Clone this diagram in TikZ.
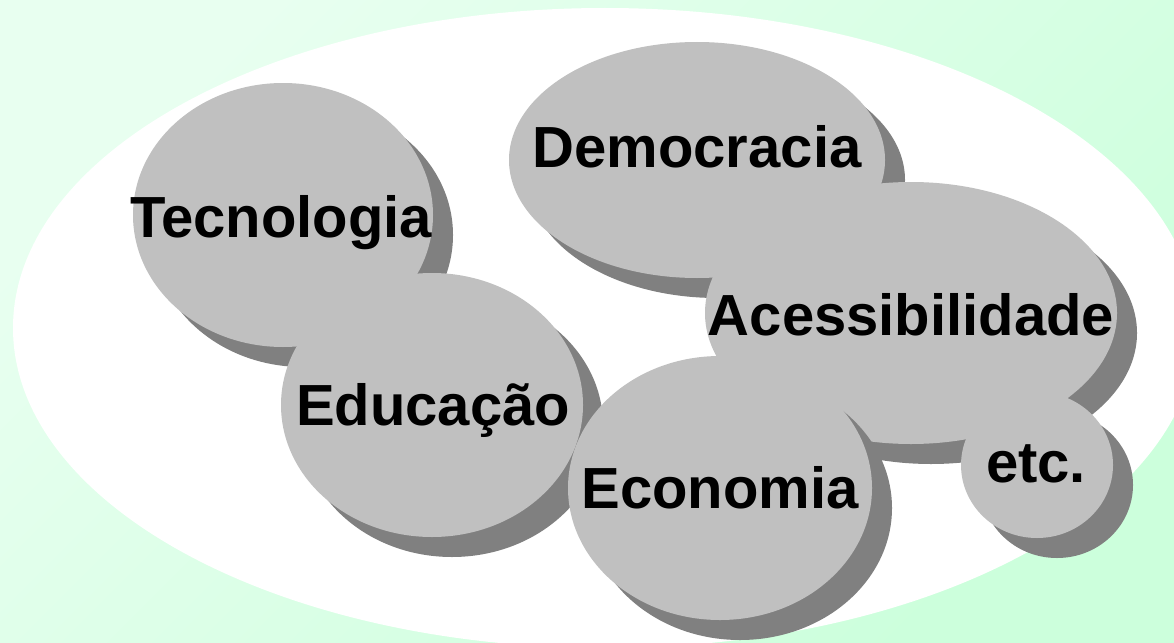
\documentclass[tikz,border=0pt]{standalone}
\usepackage{fontspec}
\setmainfont{Liberation Sans}
\definecolor{bglight}{HTML}{E8FFF0}
\definecolor{bgdark}{HTML}{CCFFDC}
\definecolor{bubble}{HTML}{C0C0C0}
\definecolor{bubbleshadow}{HTML}{808080}
\tikzset{
  label/.style={anchor=base, inner sep=0pt, font=\fontsize{58}{66}\selectfont\bfseries, text=black},
}
\newcommand{\bubbleshape}[4]{%
  \fill[bubbleshadow] ($(#1,#2)+(20,20)$) ellipse [x radius=#3pt, y radius=#4pt];
  \fill[bubble] (#1,#2) ellipse [x radius=#3pt, y radius=#4pt];
}
\usetikzlibrary{calc}
\begin{document}
\begin{tikzpicture}[x=1pt,y=-1pt]
\useasboundingbox (0,0) rectangle (1174,642);
\shade[top color=bglight, bottom color=bgdark, shading angle=45] (0,0) rectangle (1174,642);
\begin{scope}
\clip (0,0) rectangle (1174,642);
\fill[white] (605,328) ellipse [x radius=592pt, y radius=320pt];
\bubbleshape{283}{215}{150}{132}
\bubbleshape{432}{405}{151}{132}
\bubbleshape{697}{160}{188}{118}
\bubbleshape{911}{313}{206}{131}
\bubbleshape{720}{488}{152}{132}
\bubbleshape{1037}{465}{76}{73}
\end{scope}
\node[label] (tec) at (281,237) {Tecnologia};
\node[label] (edu) at (433,425) {Educação};
\node[label] (dem) at (697,167) {Democracia};
\node[label] (ace) at (911,335) {Acessibilidade};
\node[label] (eco) at (720,508) {Economia};
\node[label] (etc) at (1036,482) {etc.};
\end{tikzpicture}
\end{document}
